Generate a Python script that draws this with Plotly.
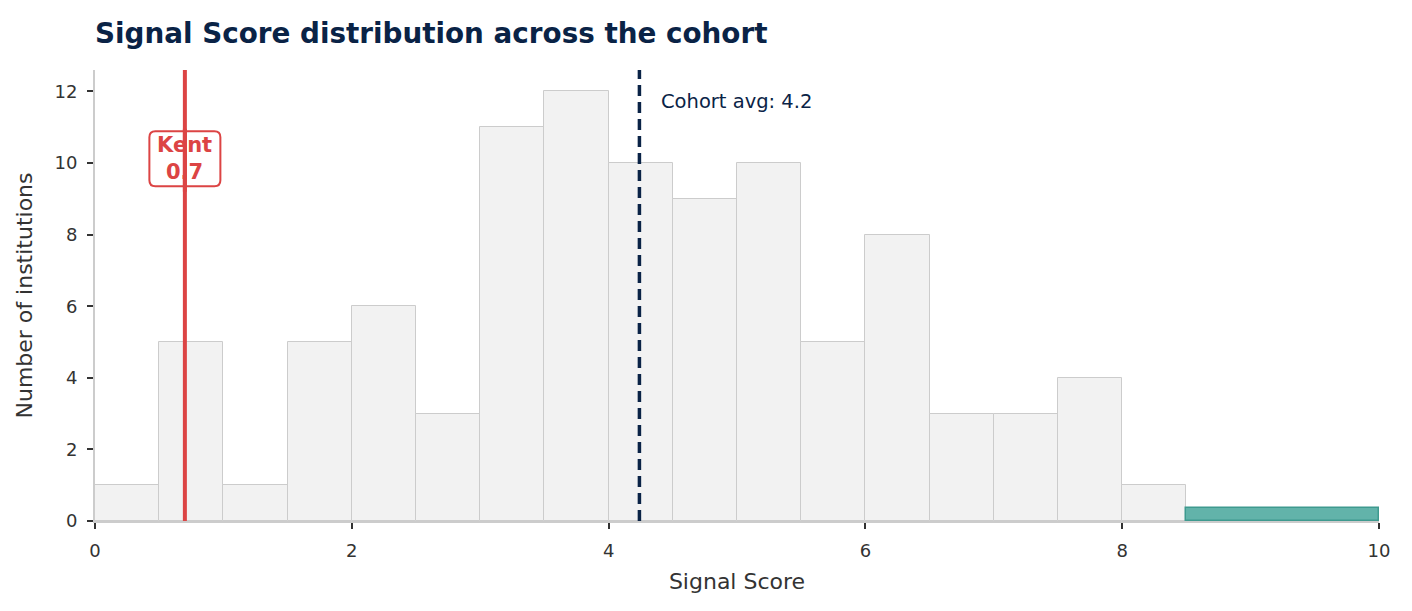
import plotly.graph_objects as go

# ---- data ----
bin_edges_left = [0.0, 0.5, 1.0, 1.5, 2.0, 2.5, 3.0, 3.5, 4.0, 4.5, 5.0, 5.5, 6.0, 6.5, 7.0, 7.5, 8.0]
bin_counts = [1, 5, 1, 5, 6, 3, 11, 12, 10, 9, 10, 5, 8, 3, 3, 4, 1]
bin_width = 0.5
highlight_range = [8.5, 10.0]
highlight_height = 0.36
kent_score = 0.7
kent_label = "Kent"
cohort_avg = 4.24
cohort_avg_label = "Cohort avg: 4.2"
x_ticks = [0, 2, 4, 6, 8, 10]
y_ticks = [0, 2, 4, 6, 8, 10, 12]

NAVY = "#0a2346"
RED = "#dc4444"
TEAL = "#62b3aa"
TEAL_DARK = "#3e9a8f"
FONT = "DejaVu Sans"

fig = go.Figure()

fig.add_trace(go.Bar(
    x=[e + bin_width / 2 for e in bin_edges_left],
    y=bin_counts,
    width=bin_width,
    marker=dict(color="#f2f2f2", line=dict(color="#cccccc", width=1)),
    hoverinfo="skip",
    showlegend=False,
))

fig.add_trace(go.Bar(
    x=[(highlight_range[0] + highlight_range[1]) / 2],
    y=[highlight_height],
    width=highlight_range[1] - highlight_range[0],
    marker=dict(color=TEAL, line=dict(color=TEAL_DARK, width=1.5)),
    hoverinfo="skip",
    showlegend=False,
))

# cohort average dashed line
fig.add_shape(type="line", xref="x", yref="paper",
              x0=cohort_avg, x1=cohort_avg, y0=0, y1=1,
              line=dict(color=NAVY, width=3.5, dash="11px,6px"), layer="above")

# Kent label box (rounded, pixel sized around anchor)
label_y = 10.12
w, h, r = 35.5, 27.5, 6
box_path = (
    f"M {-w + r},{-h} L {w - r},{-h} Q {w},{-h} {w},{-h + r} "
    f"L {w},{h - r} Q {w},{h} {w - r},{h} L {-w + r},{h} "
    f"Q {-w},{h} {-w},{h - r} L {-w},{-h + r} Q {-w},{-h} {-w + r},{-h} Z"
)
fig.add_shape(type="path", xref="x", yref="y",
              xsizemode="pixel", ysizemode="pixel",
              xanchor=kent_score, yanchor=label_y,
              path=box_path, fillcolor="white",
              line=dict(color=RED, width=2), layer="above")

# Kent line
fig.add_shape(type="line", xref="x", yref="paper",
              x0=kent_score, x1=kent_score, y0=0, y1=1,
              line=dict(color=RED, width=4), layer="above")

fig.add_annotation(
    x=cohort_avg + 0.15, y=11.72, xref="x", yref="y",
    text=cohort_avg_label, showarrow=False,
    xanchor="left", yanchor="middle",
    font=dict(family=FONT, size=19.5, color=NAVY),
)

fig.add_annotation(
    x=kent_score, y=label_y, xref="x", yref="y",
    text=f"<b>{kent_label}</b><br><b>{kent_score:.1f}</b>", showarrow=False,
    xanchor="center", yanchor="middle",
    font=dict(family=FONT, size=21, color=RED),
)

# redraw line segment over the label text
fig.add_annotation(
    x=kent_score, y=9.2, ax=kent_score, ay=11.0,
    xref="x", yref="y", axref="x", ayref="y",
    text="", showarrow=True, arrowhead=0, arrowwidth=4, arrowcolor=RED,
    standoff=0, startstandoff=0,
)

fig.update_layout(
    width=1412, height=611,
    margin=dict(l=95, r=33, t=70, b=90),
    plot_bgcolor="white", paper_bgcolor="white",
    bargap=0, barmode="overlay",
    font=dict(family=FONT, color="#333333"),
    title=dict(
        text="<b>Signal Score distribution across the cohort</b>",
        x=95 / 1412, xref="container", xanchor="left",
        y=1 - 33 / 611, yref="container", yanchor="middle",
        font=dict(family=FONT, size=27.8, color=NAVY),
    ),
    xaxis=dict(
        range=[0, 10], tickvals=x_ticks, ticktext=[str(t) for t in x_ticks],
        showgrid=False, zeroline=False,
        showline=True, linecolor="#cccccc", linewidth=2,
        ticks="outside", ticklen=6, tickwidth=2, tickcolor="#333333",
        ticklabelstandoff=6,
        tickfont=dict(family=FONT, size=18, color="#333333"),
        title=dict(text="Signal Score", font=dict(family=FONT, size=22, color="#333333"), standoff=14),
    ),
    yaxis=dict(
        range=[0, 12.6], tickvals=y_ticks, ticktext=[str(t) for t in y_ticks],
        showgrid=False, zeroline=False,
        showline=True, linecolor="#cccccc", linewidth=2,
        ticks="outside", ticklen=6, tickwidth=2, tickcolor="#333333",
        ticklabelstandoff=6,
        tickfont=dict(family=FONT, size=18, color="#333333"),
        title=dict(text="Number of institutions", font=dict(family=FONT, size=22, color="#333333"), standoff=16),
    ),
)

fig.write_html("out.html")
